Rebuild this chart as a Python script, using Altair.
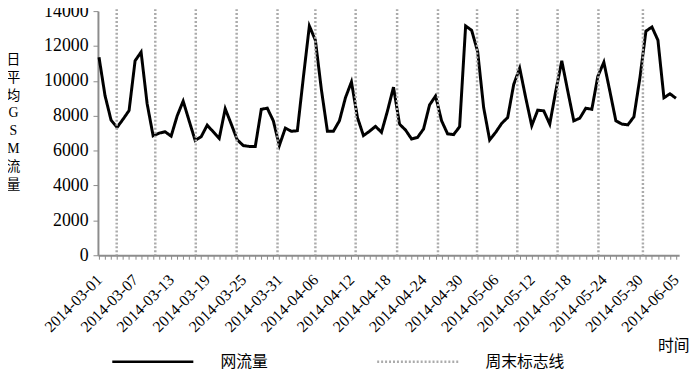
import altair as alt
import pandas as pd

# Daily dates 2014-03-01 .. 2014-06-05 (97 days), tick labels every 6 days
dates = [d.strftime("%Y-%m-%d") for d in pd.date_range("2014-03-01", "2014-06-05", freq="D")]

# Daily average GSM traffic
traffic = [
    11350, 9150, 7750, 7330, 7800, 8300, 11150, 11650, 8700, 6850,
    7000, 7080, 6830, 7990, 8840, 7700, 6580, 6800, 7460, 7080,
    6700, 8400, 7520, 6620, 6290, 6240, 6240, 8370, 8430, 7710,
    6290, 7290, 7110, 7140, 10200, 13150, 12330, 9500, 7110, 7110,
    7710, 9030, 9940, 7900, 6860, 7110, 7390, 7050, 8280, 9640,
    7520, 7180, 6670, 6760, 7240, 8620, 9130, 7710, 6960, 6920,
    7370, 13150, 12900, 11680, 8470, 6610, 7050, 7560, 7900, 9790,
    10730, 9030, 7430, 8320, 8280, 7520, 9410, 11150, 9410, 7710,
    7860, 8430, 8370, 10260, 11070, 9410, 7710, 7520, 7480, 7940,
    10170, 12850, 13090, 12330, 9030, 9260, 9000,
]

# Weekend marker lines (position in days from 2014-03-01, as drawn in the reference)
weekend_marks = [2.94, 9.36, 16.1, 22.9, 29.7, 36.0, 42.7, 49.6, 56.4, 62.9, 69.6, 76.3, 83.1, 90.5]

series_names = ["网流量", "周末标志线"]
y_ticks = [0, 2000, 4000, 6000, 8000, 10000, 12000, 14000]
label_every = 6

df = pd.DataFrame({"day": list(range(len(dates))), "value": traffic, "series": series_names[0]})
marks_df = pd.DataFrame({"day": weekend_marks, "series": series_names[1]})

label_array = "[" + ",".join(f"'{d}'" for d in dates) + "]"
label_expr = f"datum.value % {label_every} == 0 ? {label_array}[datum.value] : ''"

x_scale = alt.Scale(domain=[-0.18, 96.53], nice=False, zero=False)
y_scale = alt.Scale(domain=[0, 14000], nice=False)

legend = alt.Legend(
    title=None, orient="none", legendX=13, legendY=312, direction="horizontal",
    symbolType="stroke", symbolSize=6724, symbolStrokeWidth=2.5,
    labelFont="Noto Sans CJK SC", labelFontSize=16, labelColor="#000000",
    labelOffset=26, columnPadding=104, padding=0,
)
color = alt.Color(
    "series:N",
    scale=alt.Scale(domain=series_names, range=["#000000", "#ababab"]),
    legend=legend,
)
dash = alt.StrokeDash(
    "series:N",
    scale=alt.Scale(domain=series_names, range=[[1, 0], [2, 2]]),
    legend=legend,
)

x_axis = alt.Axis(
    values=list(range(len(dates))), labelExpr=label_expr, labelOverlap=False,
    labelAngle=-45, labelAlign="right", labelBaseline="middle", labelPadding=18,
    labelFont="Liberation Serif", labelFontSize=16, labelColor="#000000",
    tickSize=4, tickColor="#8c8c8c", domainColor="#8c8c8c", domainWidth=2,
    grid=False, title="时间", titleFont="Noto Sans CJK SC", titleFontSize=16,
    titleFontWeight="normal", titleColor="#000000", titleAngle=0,
    titleX=566, titleY=91, titleAlign="left", titleBaseline="middle",
)
y_axis = alt.Axis(
    values=y_ticks, format="d", grid=False,
    labelFont="Liberation Serif", labelFontSize=18, labelColor="#000000", labelPadding=5,
    tickSize=5, tickColor="#8c8c8c", domainColor="#8c8c8c", domainWidth=2,
    title=list("日平均GSM流量"), titleFont="Liberation Serif, Noto Sans CJK SC",
    titleFontSize=14, titleFontWeight="normal", titleColor="#000000", titleAngle=0,
    titleLineHeight=18, titleX=-86, titleY=42, titleAlign="center", titleBaseline="top",
)

line = alt.Chart(df).mark_line(strokeWidth=3, strokeJoin="miter").encode(
    x=alt.X("day:Q", scale=x_scale, axis=x_axis),
    y=alt.Y("value:Q", scale=y_scale, axis=y_axis),
    color=color,
    strokeDash=dash,
)

rules = alt.Chart(marks_df).mark_rule(strokeWidth=2.5).encode(
    x=alt.X("day:Q", scale=x_scale, axis=x_axis),
    y=alt.value(-6),
    y2=alt.value(247),
    color=color,
    strokeDash=dash,
)

chart = alt.layer(line, rules).properties(
    width=588, height=247,
    autosize=alt.AutoSizeParams(type="none"),
    padding={"left": 91, "top": 1, "right": 13, "bottom": 118},
).configure_view(stroke=None).configure_axis(labelOverlap=False)

chart.save("out.html", embed_options={"renderer": "svg", "actions": False})
